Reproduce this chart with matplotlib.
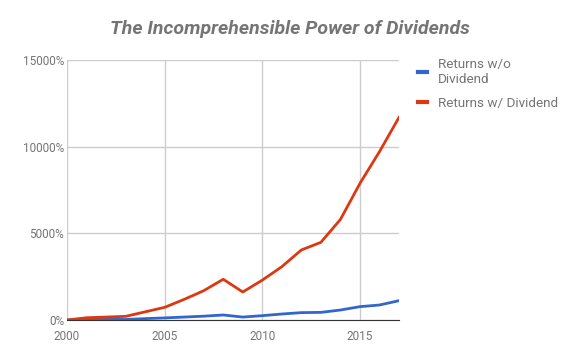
import matplotlib.pyplot as plt
from matplotlib.ticker import FuncFormatter

years = list(range(2000, 2018))
no_div = [0, 30, 40, 30, 80, 120, 170, 220, 290, 170, 250, 345, 425, 440, 575, 770, 865, 1115]
with_div = [0, 130, 170, 210, 470, 730, 1190, 1690, 2350, 1615, 2300, 3075, 4040, 4480, 5800, 7880, 9710, 11690]

plt.rcParams['font.family'] = ['Roboto', 'DejaVu Sans']
grey = '#757575'

fig = plt.figure(figsize=(5.8, 3.59), dpi=100)
ax = fig.add_axes([67/580, 39/359, 332/580, 260/359])

ax.plot(years, no_div, color='#3366cc', lw=2, label='Returns w/o\nDividend')
ax.plot(years, with_div, color='#dc3912', lw=2, label='Returns w/ Dividend')

ax.set_xlim(2000, 2017)
ax.set_ylim(0, 15000)
ax.set_xticks([2000, 2005, 2010, 2015])
ax.set_yticks([0, 5000, 10000, 15000])
ax.yaxis.set_major_formatter(FuncFormatter(lambda v, p: f'{int(v)}%'))
ax.grid(True, color='#cccccc', lw=1)
ax.set_axisbelow(True)
for s in ['top', 'right', 'left']:
    ax.spines[s].set_visible(False)
ax.spines['bottom'].set_color('#333333')
ax.tick_params(length=0, colors=grey, labelsize=8.5)
ax.tick_params(axis='x', pad=7)
ax.tick_params(axis='y', pad=2)

fig.text(290/580, 1 - 29/359, 'The Incomprehensible Power of Dividends',
         ha='center', va='center', fontsize=14, fontweight='bold',
         style='italic', color=grey)

leg = ax.legend(loc='upper left', bbox_to_anchor=(1.02, 1.055), frameon=False,
                handlelength=0.7, handletextpad=0.8, labelspacing=0.8, fontsize=9.7)
for t in leg.get_texts():
    t.set_color(grey)
for h in leg.get_lines():
    h.set_linewidth(3)

fig.savefig('out.png', dpi=100)
